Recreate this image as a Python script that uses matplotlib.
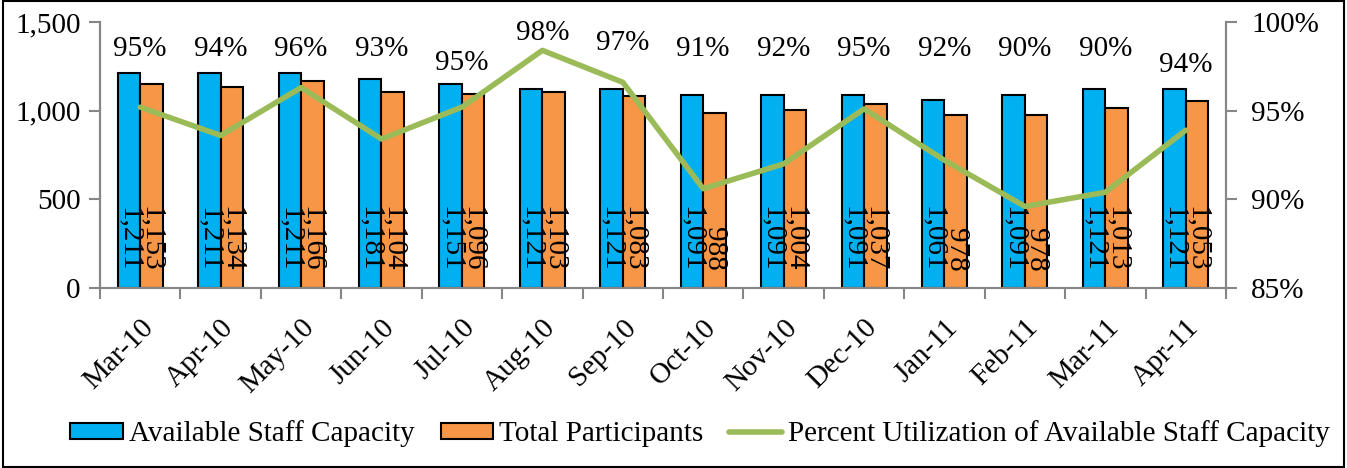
import matplotlib
matplotlib.use("Agg")
import matplotlib.pyplot as plt
import matplotlib.transforms as mtransforms
from matplotlib.patches import Patch, Rectangle
from matplotlib.lines import Line2D
from matplotlib.ticker import FuncFormatter, FixedLocator
import numpy as np

# data
months = ["Mar-10", "Apr-10", "May-10", "Jun-10", "Jul-10", "Aug-10", "Sep-10",
          "Oct-10", "Nov-10", "Dec-10", "Jan-11", "Feb-11", "Mar-11", "Apr-11"]
capacity = [1211, 1211, 1211, 1181, 1151, 1121, 1121, 1091, 1091, 1091, 1061, 1091, 1121, 1121]
participants = [1153, 1134, 1166, 1104, 1096, 1103, 1083, 988, 1004, 1037, 978, 978, 1013, 1053]
pct_util = [95.2, 93.6, 96.3, 93.4, 95.2, 98.4, 96.6, 90.6, 92.0, 95.1, 92.2, 89.6, 90.4, 93.9]

# layout: heights (right-axis %) of the percent labels, as placed in the original
pct_label_y = [98.5, 98.5, 98.5, 98.5, 97.7, 99.4, 98.8, 98.5, 98.5, 98.5, 98.5, 98.5, 98.5, 97.6]

BLUE = "#00B0F0"
ORANGE = "#F79646"
GREEN = "#9BBB59"
GRAY = "#868686"
FS = 21

plt.rcParams['font.family'] = ['Liberation Serif', 'DejaVu Serif']

fig = plt.figure(figsize=(13.47, 4.68), dpi=100)
ax = fig.add_axes([100/1347, 1-288/468, 1126/1347, 266/468])
ax2 = ax.twinx()

x = np.arange(len(months))
w = 0.28
ax.bar(x - w/2, capacity, w, color=BLUE, edgecolor="black", linewidth=1.5, zorder=2)
ax.bar(x + w/2, participants, w, color=ORANGE, edgecolor="black", linewidth=1.5, zorder=2)

for xi, v in zip(x, capacity):
    ax.annotate(f"{v:,}", (xi - w/2, 0), xytext=(0, 12), textcoords="offset points",
                rotation=270, ha="center", va="bottom", fontsize=FS, zorder=5)
for xi, v in zip(x, participants):
    ax.annotate(f"{v:,}", (xi + w/2, 0), xytext=(0, 12), textcoords="offset points",
                rotation=270, ha="center", va="bottom", fontsize=FS, zorder=5)

ax.set_xlim(-0.5, len(months) - 0.5)
ax.set_ylim(0, 1500)
ax.set_yticks([0, 500, 1000, 1500])
ax.yaxis.set_major_formatter(FuncFormatter(lambda v, p: f"{int(v):,}"))
ax.set_xticks(x)
ax.set_xticklabels(months, rotation=45, ha="right", rotation_mode="anchor", fontsize=FS)
shift = mtransforms.ScaledTranslation(4/100, 0, fig.dpi_scale_trans)
for lab in ax.get_xticklabels():
    lab.set_transform(lab.get_transform() + shift)
ax.xaxis.set_minor_locator(FixedLocator(np.arange(-0.5, len(months), 1)))
ax.tick_params(axis="x", which="major", length=0, pad=19)
ax.tick_params(axis="x", which="minor", length=8, width=1.5, color=GRAY, direction="out")
ax.tick_params(axis="y", length=8, width=1.5, color=GRAY, labelsize=FS, pad=6)

ax2.plot(x, pct_util, color=GREEN, linewidth=4, solid_capstyle="round", zorder=4)
for xi, v, ly in zip(x, pct_util, pct_label_y):
    ax2.text(xi, ly, f"{v:.0f}%", ha="center", va="center", fontsize=FS)
ax2.set_ylim(85, 100)
ax2.set_yticks([85, 90, 95, 100])
ax2.yaxis.set_major_formatter(FuncFormatter(lambda v, p: f"{int(v)}%"))
ax2.tick_params(axis="y", length=8, width=1.5, color=GRAY, labelsize=FS, pad=10)

for a in (ax, ax2):
    a.spines["top"].set_visible(False)
    for s in ("left", "right", "bottom"):
        a.spines[s].set_color(GRAY)
        a.spines[s].set_linewidth(1.5)

handles = [Patch(facecolor=BLUE, edgecolor="black", linewidth=1.5),
           Patch(facecolor=ORANGE, edgecolor="black", linewidth=1.5),
           Line2D([], [], color=GREEN, linewidth=4, solid_capstyle="round")]
labels = ["Available Staff Capacity", "Total Participants",
          "Percent Utilization of Available Staff Capacity"]
fig.legend(handles, labels, loc="center", bbox_to_anchor=(700/1347, 1 - 434/468), ncol=3,
           frameon=False, fontsize=FS, handlelength=1.8, handleheight=0.5,
           handletextpad=0.2, columnspacing=0.9)

fig.patches.append(Rectangle((0.002, 0.002), 0.996, 0.996, transform=fig.transFigure,
                             fill=False, edgecolor="black", linewidth=1.5))

fig.savefig("out.png", dpi=100)
